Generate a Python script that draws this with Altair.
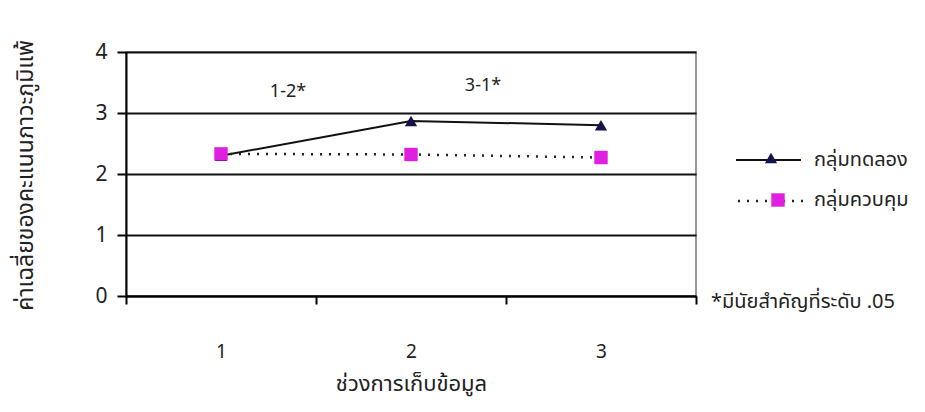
import altair as alt
import pandas as pd

periods = ["1", "2", "3"]
experimental = [2.30, 2.87, 2.80]
control = [2.33, 2.32, 2.27]
group_names = ["กลุ่มทดลอง", "กลุ่มควบคุม"]
notes = ["1-2*", "3-1*"]
note_y = [3.35, 3.45]
footnote = "*มีนัยสำคัญที่ระดับ .05"
x_title = "ช่วงการเก็บข้อมูล"
y_title = "ค่าเฉลี่ยของคะแนนภาวะภูมิแพ้"

FONT = "Tahoma, 'Noto Sans Thai', 'Noto Sans', sans-serif"

exp_df = pd.DataFrame({"period": periods, "score": experimental})
ctl_df = pd.DataFrame({"period": periods, "score": control})

x_enc = alt.X(
    "period:O",
    sort=periods,
    scale=alt.Scale(paddingInner=0, paddingOuter=0),
    axis=alt.Axis(
        title=x_title, labelAngle=0, tickBand="extent", tickSize=8,
        tickColor="black", tickWidth=2, domainColor="black", domainWidth=2,
        labelPadding=38, labelFontSize=19, labelFont=FONT, labelColor="#222",
        titleFontSize=22, titleFont=FONT, titleFontWeight="normal", titlePadding=12,
        titleColor="#222",
    ),
)
y_enc = alt.Y(
    "score:Q",
    scale=alt.Scale(domain=[0, 4], nice=False),
    axis=alt.Axis(
        title=y_title, values=[0, 1, 2, 3, 4], format="d", tickSize=9, tickColor="black",
        tickWidth=2, domainColor="black", domainWidth=2, grid=True,
        gridColor="#111", gridWidth=2, labelPadding=10, labelFontSize=21,
        labelFont=FONT, labelColor="#222", titleFontSize=23, titleFont=FONT,
        titleFontWeight="normal", titleColor="#222", titleX=-101, titleY=123,
        titleAnchor="middle", titleBaseline="middle", titleAngle=270,
    ),
)

exp_line = alt.Chart(exp_df).mark_line(color="#111", strokeWidth=2).encode(x=x_enc, y=y_enc)
exp_pts = alt.Chart(exp_df).mark_point(
    shape="triangle-up", filled=True, color="#14144a", size=150, opacity=1
).encode(x="period:O", y="score:Q")
ctl_line = alt.Chart(ctl_df).mark_line(
    color="#222", strokeWidth=2.5, strokeDash=[2, 7]
).encode(x="period:O", y="score:Q")
ctl_pts = alt.Chart(ctl_df).mark_point(
    shape="square", filled=True, color="#e020e0", size=180, opacity=1
).encode(x="period:O", y="score:Q")

notes_df = pd.DataFrame({"label": notes, "y": note_y, "px": [162, 357]})
note_marks = alt.Chart(notes_df).mark_text(
    fontSize=18, font=FONT, color="#222"
).encode(x=alt.X("px:Q", scale=None), y=alt.Y("y:Q"), text="label:N")

# legend (drawn manually to the right of the plot)
leg_line1 = alt.Chart(pd.DataFrame({"a": [0]})).mark_rule(color="#111", strokeWidth=2).encode(
    x=alt.value(610), x2=alt.value(675), y=alt.value(108))
leg_tri = alt.Chart(pd.DataFrame({"a": [0]})).mark_point(
    shape="triangle-up", filled=True, color="#14144a", size=150, opacity=1).encode(
    x=alt.value(645), y=alt.value(106))
leg_line2 = alt.Chart(pd.DataFrame({"a": [0]})).mark_rule(
    color="#222", strokeWidth=2.5, strokeDash=[2, 7]).encode(
    x=alt.value(612), x2=alt.value(677), y=alt.value(149))
leg_sq = alt.Chart(pd.DataFrame({"a": [0]})).mark_point(
    shape="square", filled=True, color="#e020e0", size=180, opacity=1).encode(
    x=alt.value(652), y=alt.value(148))
leg_df = pd.DataFrame({"name": group_names, "py": [108, 148]})
leg_text = alt.Chart(leg_df).mark_text(
    align="left", baseline="middle", fontSize=20, font=FONT, color="#222").encode(
    x=alt.value(688), y=alt.Y("py:Q", scale=None), text="name:N")
foot = alt.Chart(pd.DataFrame({"t": [footnote]})).mark_text(
    align="left", baseline="middle", fontSize=20, font=FONT, color="#222").encode(
    x=alt.value(585), y=alt.value(250), text="t:N")

chart = alt.layer(
    exp_line, ctl_line, exp_pts, ctl_pts, note_marks,
    leg_line1, leg_tri, leg_line2, leg_sq, leg_text, foot,
).resolve_scale(x="shared").properties(
    width=570, height=244,
    autosize=alt.AutoSizeParams(type="none"),
    padding={"left": 126, "top": 52, "right": 229, "bottom": 116},
    background="white",
).configure_view(stroke="#777", strokeWidth=1.5)

chart.save("out.html", embed_options={"renderer": "svg", "actions": False})
